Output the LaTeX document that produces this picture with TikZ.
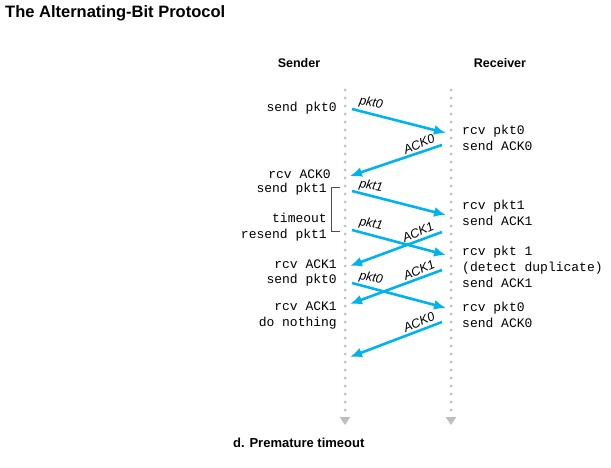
\documentclass[tikz,border=0pt]{standalone}
\usepackage{fontspec}
\setmainfont{Liberation Sans}
\newfontfamily\codefont{Liberation Mono}
\usetikzlibrary{arrows.meta,positioning}
\definecolor{msgblue}{RGB}{0,178,238}
\definecolor{linegray}{RGB}{190,190,190}

\begin{document}
\begin{tikzpicture}[x=1pt,y=-1pt,
    msg/.style={draw=msgblue,line width=2.6pt,-{Latex[length=12pt,width=10pt]}},
    lifeline/.style={draw=linegray,line width=3pt,line cap=round,dash pattern=on 0pt off 8pt,
      -{Triangle[length=8pt,width=10pt]}},
    evt/.style={font=\codefont\fontsize{13}{16}\selectfont,inner sep=0pt},
    lbl/.style={font=\itshape\fontsize{12.5}{14}\selectfont,inner sep=0pt},
    head/.style={font=\bfseries\fontsize{12.5}{15}\selectfont,inner sep=0pt}]
  \useasboundingbox (0,0) rectangle (611,468);

  \node[anchor=base west,inner sep=0pt,font=\bfseries\fontsize{16.5}{20}\selectfont] (title) at (5,18) {The Alternating-Bit Protocol};
  \node[head,anchor=base] (sender) at (299,68) {Sender};
  \node[head,anchor=base] (receiver) at (500,68) {Receiver};
  \node[head,anchor=base west,font=\bfseries\fontsize{13}{15}\selectfont] (caption) at (233,447) {d. Premature timeout};

  % lifelines
  \coordinate (sndTop) at (345,90);
  \coordinate (sndEnd) at (345,425);
  \coordinate (rcvTop) at (451,90);
  \coordinate (rcvEnd) at (451,425);
  \draw[lifeline] (sndTop) -- (sndEnd);
  \draw[lifeline] (rcvTop) -- (rcvEnd);

  % sender side
  \node[evt,anchor=east] (s1) at (337,108) {send pkt0};
  \node[evt,anchor=east] (s2) at (331,174) {rcv ACK0};
  \node[evt,anchor=east] (s3) at (327,189) {send pkt1};
  \node[evt,anchor=east,align=right] (s4) at (327,227) {timeout\\resend pkt1};
  \node[evt,anchor=east,align=right] (s5) at (337,273) {rcv ACK1\\send pkt0};
  \node[evt,anchor=east,align=right] (s6) at (337,315) {rcv ACK1\\do nothing};

  % receiver side
  \node[evt,anchor=west,align=left] (r1) at (462,138) {rcv pkt0\\send ACK0};
  \node[evt,anchor=west,align=left] (r2) at (462,212.5) {rcv pkt1\\send ACK1};
  \node[evt,anchor=west,align=left] (r3) at (462,266.5) {rcv pkt 1\\(detect duplicate)\\send ACK1};
  \node[evt,anchor=west,align=left] (r4) at (462,315) {rcv pkt0\\send ACK0};

  % timeout bracket
  \coordinate (tTop) at (340,187);
  \coordinate (tBot) at (340,231);
  \draw[black!70,line width=0.8pt] (tTop) -- ++(-9,0) |- (tBot);

  % message end points
  \coordinate (m1a) at (352,109); \coordinate (m1b) at (446,133);
  \coordinate (m2a) at (442,145); \coordinate (m2b) at (350,176);
  \coordinate (m3a) at (352,191); \coordinate (m3b) at (446,215);
  \coordinate (m4a) at (352,230); \coordinate (m4b) at (446,255);
  \coordinate (m5a) at (442,232); \coordinate (m5b) at (350,266);
  \coordinate (m6a) at (442,270); \coordinate (m6b) at (350,304);
  \coordinate (m7a) at (352,283); \coordinate (m7b) at (446,308);
  \coordinate (m8a) at (442,322); \coordinate (m8b) at (350,357);

  \draw[msg] (m1a) -- (m1b);
  \draw[msg] (m2a) -- (m2b);
  \draw[msg] (m3a) -- (m3b);
  \draw[msg] (m4a) -- (m4b);
  \draw[msg] (m5a) -- (m5b);
  \draw[msg] (m6a) -- (m6b);
  \draw[msg] (m7a) -- (m7b);
  \draw[msg] (m8a) -- (m8b);

  \node[lbl,rotate=-10] (l1) at (371,103) {pkt0};
  \node[lbl,rotate=24] (l2) at (419,144) {ACK0};
  \node[lbl,rotate=-10] (l3) at (371,186) {pkt1};
  \node[lbl,rotate=-10] (l4) at (371,224) {pkt1};
  \node[lbl,rotate=24] (l5) at (418,232) {ACK1};
  \node[lbl,rotate=24] (l6) at (419,270) {ACK1};
  \node[lbl,rotate=-10] (l7) at (371,278) {pkt0};
  \node[lbl,rotate=24] (l8) at (419,322) {ACK0};
\end{tikzpicture}
\end{document}
